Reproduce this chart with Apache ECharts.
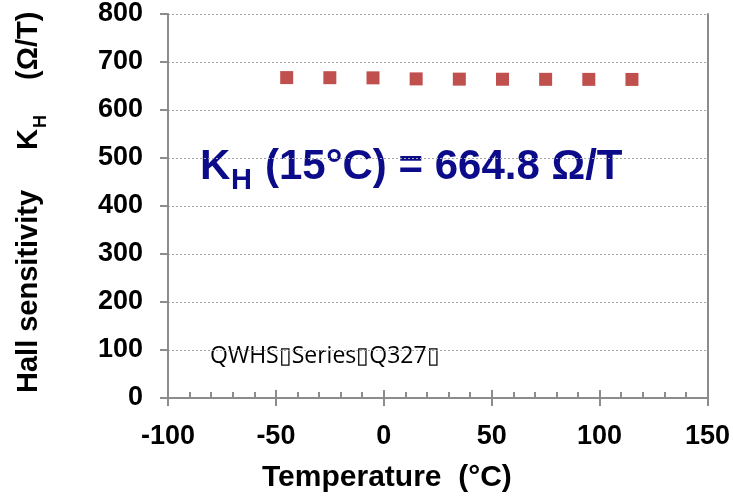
<!DOCTYPE html>
<html>
<head>
<meta charset="utf-8">
<script src="https://cdn.jsdelivr.net/npm/echarts@6/dist/echarts.min.js"></script>
<style>html,body{margin:0;padding:0;background:#fff}#c{width:733px;height:501px}</style>
</head>
<body>
<div id="c"></div>
<script>
// Data
var temperatures = [-45, -25, -5, 15, 35, 55, 75, 95, 115];
var sensitivity = [667.5, 667.3, 667.0, 664.8, 664.3, 664.1, 663.9, 663.8, 663.7];
var xTicks = [-100, -50, 0, 50, 100, 150];
var yTicks = [0, 100, 200, 300, 400, 500, 600, 700, 800];
var annotationMain = 'K';
var annotationSub = 'H';
var annotationRest = '(15°C) = 664.8 Ω/T';
var noteText = 'QWHS\u25AFSeries\u25AFQ327\u25AF';
var xTitle = 'Temperature  (°C)';
var yTitleParts = ['Hall sensitivity', 'K', 'H', '(Ω/T)'];

var axisGray = '#8c8c8c';
var labelFont = {fontFamily: 'Liberation Sans, Arial, sans-serif', fontWeight: 'bold', fontSize: 27, color: '#000'};

var chart = echarts.init(document.getElementById('c'), null, {renderer: 'canvas'});
var option = {
  animation: false,
  backgroundColor: '#fff',
  grid: {left: 168, right: 24, top: 14, bottom: 103, containLabel: false},
  xAxis: [{
    type: 'value', min: xTicks[0], max: xTicks[xTicks.length - 1], interval: 50,
    position: 'bottom',
    axisLine: {show: true, onZero: false, lineStyle: {color: axisGray, width: 2}},
    axisTick: {show: true, inside: true, length: 8, lineStyle: {color: axisGray, width: 2}},
    minorTick: {show: true, splitNumber: 5, length: 6, lineStyle: {color: axisGray, width: 2}},
    axisLabel: Object.assign({margin: 25}, labelFont),
    splitLine: {show: false}
  }, {
    type: 'value', min: xTicks[0], max: xTicks[xTicks.length - 1], interval: 50,
    position: 'bottom',
    axisLine: {show: false},
    axisTick: {show: true, inside: false, length: 8, lineStyle: {color: axisGray, width: 2}},
    axisLabel: {show: false},
    splitLine: {show: false}
  }],
  yAxis: [{
    type: 'value', min: yTicks[0], max: yTicks[yTicks.length - 1], interval: 100,
    axisLine: {show: true, onZero: false, lineStyle: {color: axisGray, width: 2}},
    axisTick: {show: true, inside: false, length: 8, lineStyle: {color: axisGray, width: 2}},
    axisLabel: Object.assign({margin: 25}, labelFont),
    splitLine: {show: true, lineStyle: {color: '#a6a6a6', type: [2, 2], width: 1}}
  }, {
    type: 'value', min: yTicks[0], max: yTicks[yTicks.length - 1], interval: 100,
    position: 'right',
    axisLine: {show: true, onZero: false, lineStyle: {color: axisGray, width: 2}},
    axisTick: {show: false},
    axisLabel: {show: false},
    splitLine: {show: false}
  }],
  series: [{
    type: 'scatter',
    xAxisIndex: 0, yAxisIndex: 0,
    symbol: 'rect',
    symbolSize: 13,
    itemStyle: {color: '#C0504D', opacity: 1},
    data: temperatures.map(function (t, i) { return [t, sensitivity[i]]; })
  }],
  graphic: [
    {type: 'text', x: 200, y: 167, style: {text: annotationMain, fontFamily: 'Liberation Sans, Arial', fontWeight: 'bold', fontSize: 42, fill: '#0c0c8a', align: 'left', verticalAlign: 'middle'}},
    {type: 'text', x: 231, y: 181, style: {text: annotationSub, fontFamily: 'Liberation Sans, Arial', fontWeight: 'bold', fontSize: 29, fill: '#0c0c8a', align: 'left', verticalAlign: 'middle'}},
    {type: 'text', x: 265, y: 167, style: {text: annotationRest, fontFamily: 'Liberation Sans, Arial', fontWeight: 'bold', fontSize: 42, fill: '#0c0c8a', align: 'left', verticalAlign: 'middle'}},
    {type: 'text', x: 210, y: 356, style: {text: noteText, fontFamily: 'Open Sans, sans-serif', fontSize: 23, fill: '#000', align: 'left', verticalAlign: 'middle'}},
    {type: 'text', x: 262, y: 478, style: {text: xTitle, fontFamily: 'Liberation Sans, Arial', fontWeight: 'bold', fontSize: 30, fill: '#000', align: 'left', verticalAlign: 'middle'}},
    {type: 'text', x: 29, y: 393, rotation: Math.PI / 2, style: {text: yTitleParts[0], fontFamily: 'Liberation Sans, Arial', fontWeight: 'bold', fontSize: 29, fill: '#000', align: 'left', verticalAlign: 'middle'}},
    {type: 'text', x: 29, y: 150, rotation: Math.PI / 2, style: {text: yTitleParts[1], fontFamily: 'Liberation Sans, Arial', fontWeight: 'bold', fontSize: 29, fill: '#000', align: 'left', verticalAlign: 'middle'}},
    {type: 'text', x: 41, y: 128, rotation: Math.PI / 2, style: {text: yTitleParts[2], fontFamily: 'Liberation Sans, Arial', fontWeight: 'bold', fontSize: 18, fill: '#000', align: 'left', verticalAlign: 'middle'}},
    {type: 'text', x: 29, y: 80, rotation: Math.PI / 2, style: {text: yTitleParts[3], fontFamily: 'Liberation Sans, Arial', fontWeight: 'bold', fontSize: 29, fill: '#000', align: 'left', verticalAlign: 'middle'}}
  ]
};
chart.setOption(option);
</script>
</body>
</html>
